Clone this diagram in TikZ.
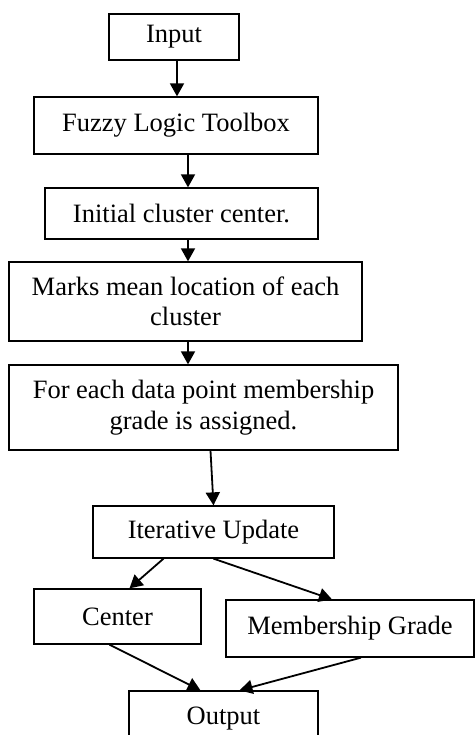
\documentclass[tikz,border=0pt]{standalone}
\usepackage{fontspec}
\setmainfont{Liberation Serif}
\usetikzlibrary{arrows.meta,calc}

\begin{document}
\begin{tikzpicture}[x=1pt,y=-1pt,
        box/.style={draw,line width=1.3pt,inner sep=0pt,align=center,
            font=\fontsize{26.5}{30.5}\selectfont},
        arr/.style={line width=1.8pt,-{Triangle[length=13pt,width=14pt]}}]
        \useasboundingbox (0,0) rectangle (475,735);
        \node[box,minimum width=130,minimum height=46] (inp) at (174,37) {Input};
        \node[box,minimum width=284,minimum height=57] (fuz) at (176,125.5) {Fuzzy Logic Toolbox};
        \node[box,minimum width=273,minimum height=51] (ini) at (181.5,213.5) {Initial cluster center.};
        \node[box,minimum width=353,minimum height=79] (mrk) at (185.5,301.5) {Marks mean location of each\\cluster};
        \node[box,minimum width=389,minimum height=85] (dat) at (203.5,407.5) {For each data point membership\\grade is assigned.};
        \node[box,minimum width=241,minimum height=52] (itr) at (213.5,532) {Iterative Update};
        \node[box,minimum width=167,minimum height=55] (cen) at (117.5,616.5) {Center};
        \node[box,minimum width=248,minimum height=57] (mem) at (350,628.5) {Membership Grade};
        \node[box,minimum width=189,minimum height=55] (out) at (223.5,718.5) {Output};
        \draw[arr] (inp.south -| 177,0) -- (fuz.north -| 177,0);
        \draw[arr] (fuz.south -| 188,0) -- (ini.north -| 188,0);
        \draw[arr] (ini.south -| 188,0) -- (mrk.north -| 188,0);
        \draw[arr] (mrk.south -| 188,0) -- (dat.north -| 188,0);
        \draw[arr] ($(dat.south)+(7,0)$) -- (itr.north);
        \draw[arr] ($(itr.south)+(-50,0)$) -- ($(cen.north)+(12,0)$);
        \draw[arr] (itr.south) -- ($(mem.north)+(-18,0)$);
        \draw[arr] ($(cen.south)+(-8,0)$) -- ($(out.north)+(-23,0)$);
        \draw[arr] ($(mem.south)+(11,0)$) -- ($(out.north)+(16,0)$);
    \end{tikzpicture}
\end{document}
